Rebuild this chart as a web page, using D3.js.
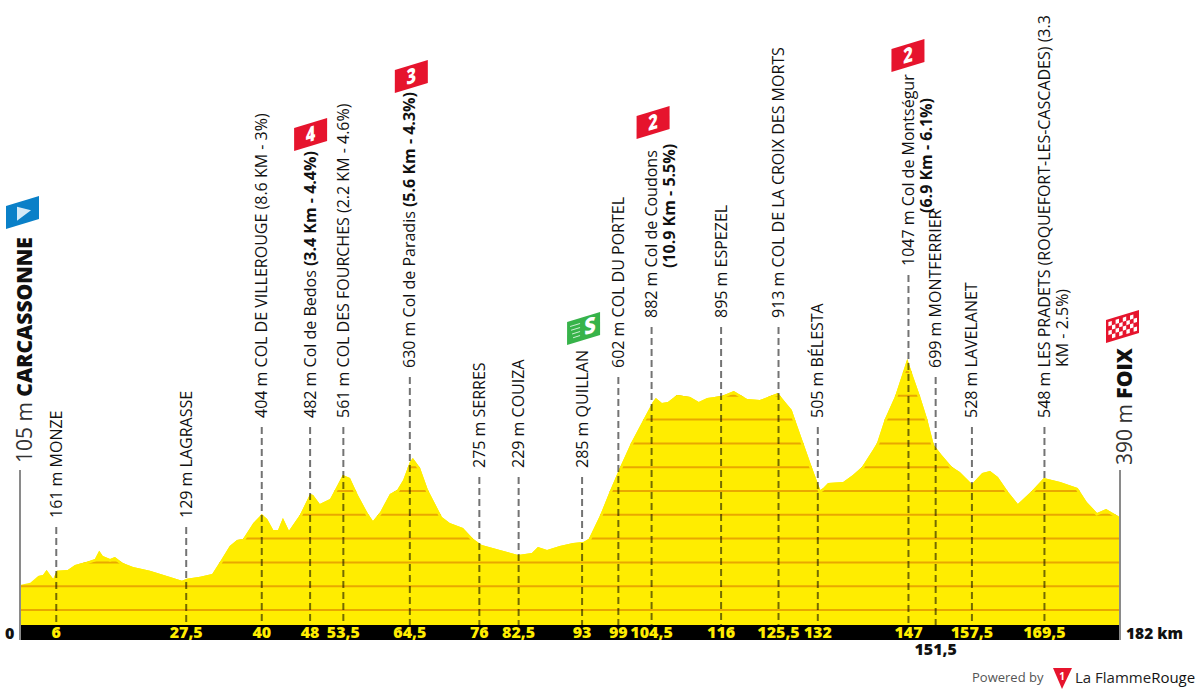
<!DOCTYPE html>
<html>
<head>
<meta charset="utf-8">
<script src="https://cdn.jsdelivr.net/npm/d3@7/dist/d3.min.js"></script>
<style>
html,body{margin:0;padding:0;background:#fff}
svg{display:block}
text{font-family:"Open Sans","Noto Sans",sans-serif}
</style>
</head>
<body>
<svg id="chart" width="1200" height="694"></svg>
<script>
// Stage profile: distance in km and altitude in metres.
const profileKm = [0,1.7,3.0,3.8,4.4,5.0,5.5,6.1,7.9,9.1,11.1,12.4,13.1,13.7,14.9,15.7,17.0,18.7,21.5,24.3,26.8,27.6,29.8,31.8,33.1,34.7,35.9,36.9,38.6,40.0,40.9,41.9,42.7,43.5,44.5,46.3,48.0,48.5,49.6,51.3,52.1,53.4,54.6,55.9,57.6,58.4,59.6,61.2,62.4,63.4,64.5,65.0,66.2,67.5,69.8,71.1,73.3,75.0,76.4,79.4,82.4,84.7,85.7,87.2,89.3,91.5,93.2,94.1,96.0,97.6,99.3,101.1,103.2,104.7,105.2,106.2,107.2,108.7,110.9,112.3,113.7,116.1,118.1,120.3,122.4,125.4,126.6,127.7,128.2,129.6,131.0,132.4,132.9,133.7,136.2,137.8,139.3,141.1,141.8,143.1,144.8,146.1,146.8,147.8,148.9,150.1,151.2,152.5,154.2,155.5,157.5,159.2,160.5,161.8,163.5,165.1,167.4,169.4,172.1,175.0,176.5,178.2,179.7,182];
const profileAlt = [105,115,143,147,168,147,130,165,168,189,203,214,249,227,214,223,197,181,165,143,123,131,140,151,203,269,294,298,366,402,382,336,336,387,333,399,487,483,445,466,504,567,555,483,403,374,412,487,504,546,622,639,597,504,391,366,345,298,273,252,231,239,265,252,269,282,286,298,399,500,601,702,803,874,891,870,874,903,895,874,891,899,920,887,882,912,874,840,803,702,601,504,513,534,538,567,601,672,702,803,899,1000,1055,979,899,803,693,651,601,580,529,576,584,559,496,445,500,555,538,513,454,408,424,390];

// Waypoints along the route.
const stopKm = [6,27.5,40,48,53.5,64.5,76,82.5,93,99,104.5,116,125.5,132,147,151.5,157.5,169.5];
const stopTickLabels = ["6","27,5","40","48","53,5","64,5","76","82,5","93","99","104,5","116","125,5","132","147","151,5","157,5","169,5"];
const stopAltitudes = [161,129,404,482,561,630,275,229,285,602,882,895,913,505,1047,699,528,548];
const stopNames = ["MONZE","LAGRASSE","COL DE VILLEROUGE (8.6 KM - 3%)","Col de Bedos ","COL DES FOURCHES (2.2 KM - 4.6%)","Col de Paradis ","SERRES","COUIZA","QUILLAN","COL DU PORTEL","Col de Coudons","ESPEZEL","COL DE LA CROIX DES MORTS","BÉLESTA","Col de Montségur","MONTFERRIER","LAVELANET","LES PRADETS (ROQUEFORT-LES-CASCADES) (3.3"];
const stopClimbNotes = ["","","","(3.4 Km - 4.4%)","","(5.6 Km - 4.3%)","","","","","","","","","","","",""];
const wrappedLines = {10:"(10.9 Km - 5.5%)",14:"(6.9 Km - 6.1%)",17:"KM - 2.5%)"};

// Climb categories and sprint, given by the stop they belong to.
const climbStops = [3,5,10,14];
const climbCategories = ["4","3","2","2"];
const sprintStop = 8;

const startTown = {name:"CARCASSONNE", alt:105, km:0};
const finishTown = {name:"FOIX", alt:390, km:182};
const altitudeGrid = d3.range(0,1001,100);

// Scales
const x = d3.scaleLinear().domain([0,182]).range([20,1120]);
const y = d3.scaleLinear().domain([0,1000]).range([610,372]);
const bandTop = 625, bandBottom = 640;
const yellow = "#ffed00";

const svg = d3.select("#chart");
const profile = profileKm.map((k,i)=>[k,profileAlt[i]]);
const area = d3.area().x(d=>x(d[0])).y0(bandTop).y1(d=>y(d[1]));
const ridge = d3.line().x(d=>x(d[0])).y(d=>y(d[1]));

svg.append("defs").append("clipPath").attr("id","profile-clip")
  .append("path").attr("d",area(profile));

svg.append("path").attr("d",area(profile)).attr("fill",yellow);

const inside = svg.append("g").attr("clip-path","url(#profile-clip)");
inside.selectAll("line").data(altitudeGrid).join("line")
  .attr("x1",x(0)).attr("x2",x(182))
  .attr("y1",d=>y(d)).attr("y2",d=>y(d))
  .attr("stroke","#e9a800").attr("stroke-width",2);
// Altitude lines stop a little short of the ridge
inside.append("path").attr("d",ridge(profile.slice(2)))
  .attr("fill","none").attr("stroke",yellow).attr("stroke-width",5);

// Bottom distance band
svg.append("rect").attr("x",x(0)).attr("width",x(182)-x(0))
  .attr("y",bandTop).attr("height",bandBottom-bandTop).attr("fill","#000");

// Start and finish uprights
[startTown,finishTown].forEach(t=>{
  svg.append("line").attr("x1",x(t.km)).attr("x2",x(t.km))
    .attr("y1",470).attr("y2",bandBottom)
    .attr("stroke","#8a8a8a").attr("stroke-width",2);
});

// Height at which each waypoint's leader stops
const leaderTop = [527,527,427,427,427,377,477,477,477,377,327,327,327,427,275,377,427,427];

svg.append("g").selectAll("line").data(stopKm).join("line")
  .attr("x1",d=>x(d)).attr("x2",d=>x(d))
  .attr("y1",(d,i)=>leaderTop[i]).attr("y2",bandTop)
  .attr("stroke","#000").attr("stroke-opacity",0.55)
  .attr("stroke-width",2).attr("stroke-dasharray","7 4");

// Rotated waypoint labels
function rotated(px,py,size){
  return svg.append("text")
    .attr("transform",`translate(${px},${py}) rotate(-90)`)
    .attr("font-size",size).attr("fill","#111");
}
const labelSize = 16;
stopKm.forEach((k,i)=>{
  const t = rotated(x(k)+5.5,leaderTop[i]-9,labelSize);
  t.append("tspan").text(`${stopAltitudes[i]} m ${stopNames[i]}`);
  if(stopClimbNotes[i]) t.append("tspan").attr("font-weight",700).text(stopClimbNotes[i]);
});
// Second lines of the long labels
const wrapOffset = {10:[18,268],14:[18,213],17:[18,367]};
Object.keys(wrappedLines).forEach(i=>{
  const t = rotated(x(stopKm[i])+5.5+wrapOffset[i][0],wrapOffset[i][1],labelSize);
  t.attr("font-weight",+i===17?400:700).text(wrappedLines[i]);
});

// Start and finish labels
function townLabel(town,px,py){
  const t = rotated(px,py,21);
  t.append("tspan").attr("fill","#333").attr("font-weight",400).text(`${town.alt} m `);
  t.append("tspan").attr("font-weight",800).attr("fill","#111").text(town.name);
}
townLabel(startTown,32,463);
townLabel(finishTown,1132,465);

// Kilometre labels
svg.append("g").selectAll("text").data(stopKm).join("text")
  .attr("x",d=>x(d)).attr("y",(d,i)=>stopTickLabels[i]==="151,5"?655:638)
  .attr("text-anchor","middle").attr("font-size",16).attr("font-weight",800)
  .attr("fill",(d,i)=>stopTickLabels[i]==="151,5"?"#111":yellow)
  .text((d,i)=>stopTickLabels[i]);
svg.append("text").attr("x",5).attr("y",639).attr("font-size",16).attr("font-weight",800).attr("fill","#111").text("0");
svg.append("text").attr("x",1126).attr("y",639).attr("font-size",15.5).attr("font-weight",800).attr("fill","#111").text("182 km");

// Slanted flags: every child is sheared along with the flag's edge
function flag(left,top,fill){
  const g = svg.append("g").attr("transform",`translate(${left},${top+10}) skewY(-17)`);
  g.append("rect").attr("width",33).attr("height",23).attr("fill",fill);
  return g;
}
const flagTops = [118,60,106,39];
const flagShift = [-16,-15,-15,-17];
climbStops.forEach((s,i)=>{
  const g = flag(x(stopKm[s])+flagShift[i],flagTops[i],"#e6142d");
  g.append("text").attr("transform","translate(16.5,18.5) scale(0.82,1.05)")
    .attr("text-anchor","middle").attr("fill","#fff")
    .attr("font-size",20).attr("font-weight",800)
    .text(climbCategories[i]);
});

// Start flag
const startFlag = flag(6,196,"#0a80c8");
startFlag.append("path").attr("d","M11,4 L25,12 L11,18 Z").attr("fill","#d5eaf8");

// Sprint flag
const sprint = flag(x(stopKm[sprintStop])-15,312,"#37b34a");
sprint.append("text").attr("transform","translate(23,18.5) scale(0.95,1.05)").attr("text-anchor","middle")
  .attr("fill","#fff").attr("font-size",21).attr("font-weight",800).text("S");
sprint.selectAll("line").data(d3.range(4)).join("line")
  .attr("x1",(d,i)=>3+i).attr("x2",13)
  .attr("y1",d=>5.5+d*4).attr("y2",d=>5.5+d*4)
  .attr("stroke","#cfeed5").attr("stroke-width",1);

// Finish flag with its checks
const finish = flag(1106,310,"#e6142d");
const checks = d3.range(8).flatMap(c=>d3.range(4).map(r=>[c,r])).filter(d=>(d[0]+d[1])%2===0);
finish.selectAll("rect.check").data(checks).join("rect").attr("class","check")
  .attr("x",d=>2.4+d[0]*3.6).attr("y",d=>2.8+d[1]*4.4)
  .attr("width",3.4).attr("height",4.2).attr("fill","#fff");

// Credit
svg.append("text").attr("x",972).attr("y",682).attr("font-size",13).attr("fill","#555")
  .attr("font-family","Roboto").text("Powered by");
svg.append("path").attr("d","M1053,668 L1072,668 L1062,689 Z").attr("fill","#e6142d");
svg.append("text").attr("x",1062).attr("y",680).attr("text-anchor","middle").attr("font-size",10)
  .attr("font-weight",700).attr("fill","#fff").text("1");
const credit = svg.append("text").attr("x",1075).attr("y",683).attr("font-size",15)
  .attr("font-family","Roboto").attr("fill","#222");
credit.append("tspan").text("La Flamme");
credit.append("tspan").attr("font-weight",500).attr("fill","#111").text("Rouge");
</script>
</body>
</html>
